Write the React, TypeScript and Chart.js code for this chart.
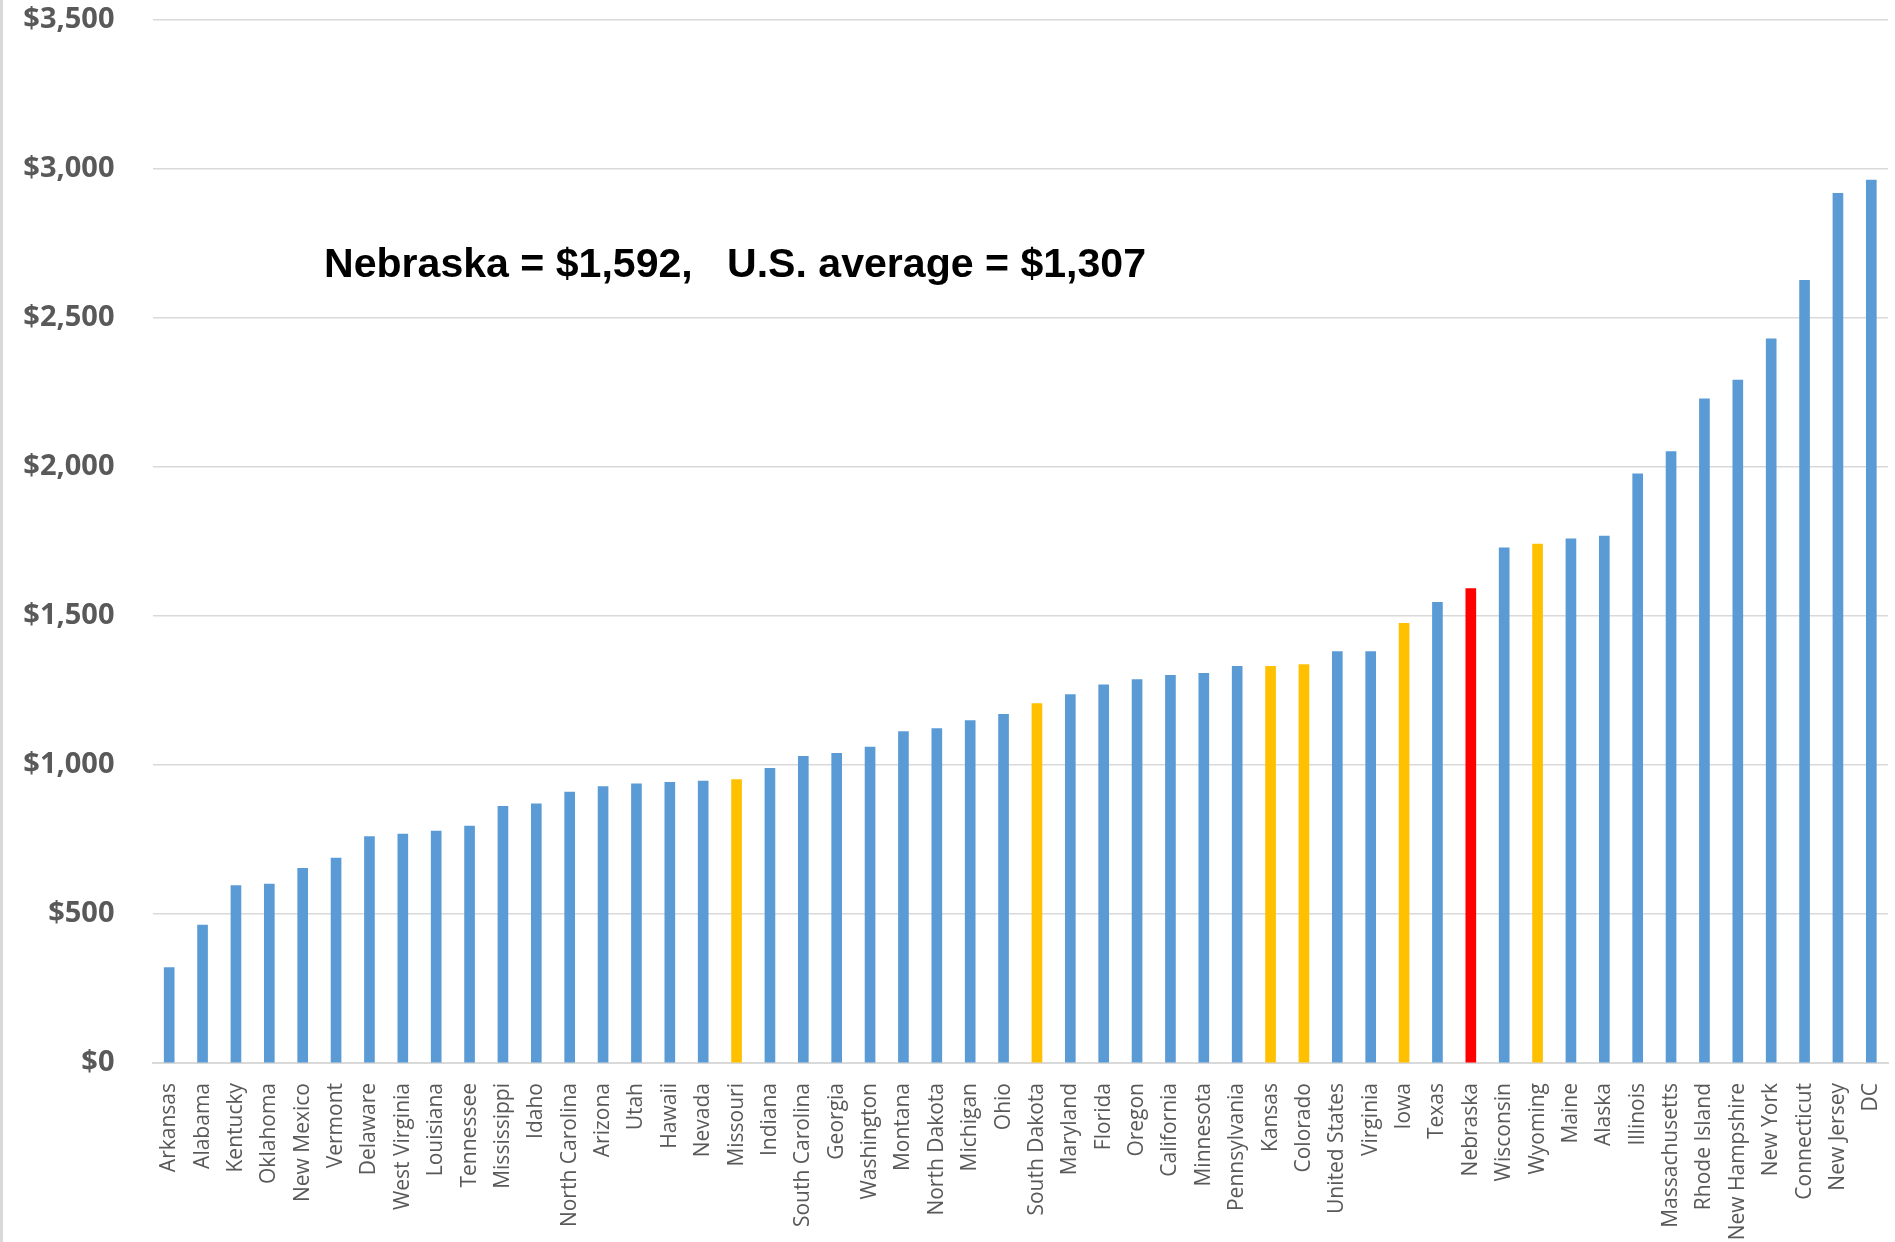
import React, { useEffect, useRef } from 'react';
import { Chart, registerables } from 'chart.js';

Chart.register(...registerables);

const states: string[] = [
  'Arkansas', 'Alabama', 'Kentucky', 'Oklahoma', 'New Mexico', 'Vermont', 'Delaware', 'West Virginia',
  'Louisiana', 'Tennessee', 'Mississippi', 'Idaho', 'North Carolina', 'Arizona', 'Utah', 'Hawaii',
  'Nevada', 'Missouri', 'Indiana', 'South Carolina', 'Georgia', 'Washington', 'Montana', 'North Dakota',
  'Michigan', 'Ohio', 'South Dakota', 'Maryland', 'Florida', 'Oregon', 'California', 'Minnesota',
  'Pennsylvania', 'Kansas', 'Colorado', 'United States', 'Virginia', 'Iowa', 'Texas', 'Nebraska',
  'Wisconsin', 'Wyoming', 'Maine', 'Alaska', 'Illinois', 'Massachusetts', 'Rhode Island', 'New Hampshire',
  'New York', 'Connecticut', 'New Jersey', 'DC',
];

const perCapita: number[] = [
  320, 463, 595, 600, 653, 688, 760, 768,
  778, 795, 861, 870, 909, 928, 937, 942,
  946, 951, 989, 1029, 1039, 1060, 1112, 1122,
  1149, 1170, 1206, 1236, 1269, 1287, 1301, 1308,
  1331, 1331, 1337, 1381, 1381, 1475, 1546, 1592,
  1729, 1741, 1759, 1768, 1977, 2052, 2229, 2292,
  2430, 2626, 2918, 2963,
];

const neighborStates: string[] = ['Missouri', 'South Dakota', 'Kansas', 'Colorado', 'Iowa', 'Wyoming'];
const focusState = 'Nebraska';

const yMin = 0;
const yMax = 3500;
const yStep = 500;

const annotationText = 'Nebraska = $1,592,   U.S. average = $1,307';

const BLUE = '#5B9BD5';
const GOLD = '#FFC000';
const RED = '#FF0000';
const TEXT_GRAY = '#595959';
const GRID_GRAY = '#D9D9D9';

const annotationPlugin = {
  id: 'textAnnotation',
  afterDraw(chart: any) {
    const ctx = chart.ctx as CanvasRenderingContext2D;
    ctx.save();
    ctx.font = 'bold 41px "Liberation Sans", Arial, sans-serif';
    const w = ctx.measureText(annotationText).width;
    ctx.translate(324, 277);
    ctx.scale(822 / w, 1);
    ctx.fillStyle = '#000000';
    ctx.textBaseline = 'alphabetic';
    ctx.textAlign = 'left';
    ctx.fillText(annotationText, 0, 0);
    ctx.restore();
  },
};

export default function App() {
  const canvasRef = useRef<HTMLCanvasElement | null>(null);

  useEffect(() => {
    if (!canvasRef.current) return;
    const colors = states.map((s) =>
      s === focusState ? RED : neighborStates.includes(s) ? GOLD : BLUE
    );
    const chart = new Chart(canvasRef.current, {
      type: 'bar',
      data: {
        labels: states,
        datasets: [
          {
            data: perCapita,
            backgroundColor: colors,
            borderWidth: 0,
            barThickness: 10,
          },
        ],
      },
      options: {
        animation: false,
        responsive: false,
        devicePixelRatio: 1,
        layout: { padding: { top: 20, right: 7, left: 0, bottom: 0 } },
        plugins: {
          legend: { display: false },
          tooltip: { enabled: false },
          title: { display: false },
        },
        scales: {
          x: {
            grid: { display: false },
            border: { display: true, color: GRID_GRAY, width: 2 },
            ticks: {
              autoSkip: false,
              minRotation: 90,
              maxRotation: 90,
              padding: 12,
              color: TEXT_GRAY,
              font: { family: '"Open Sans", sans-serif', size: 21, weight: 'normal' },
            },
            afterFit: (scale: any) => {
              scale.height = 179;
              scale.paddingLeft = 0;
              scale.paddingRight = 0;
              scale.paddingTop = 0;
              scale.paddingBottom = 0;
            },
          },
          y: {
            min: yMin,
            max: yMax,
            border: { display: false },
            grid: { color: GRID_GRAY, lineWidth: 1.5, drawTicks: false },
            ticks: {
              stepSize: yStep,
              padding: 38,
              color: TEXT_GRAY,
              font: { family: '"Open Sans", sans-serif', size: 29, weight: 'bold' },
              callback: (v: any) => '$' + Number(v).toLocaleString('en-US'),
            },
            afterFit: (scale: any) => {
              scale.width = 152.5;
              scale.paddingTop = 0;
              scale.paddingBottom = 0;
              scale.paddingLeft = 0;
              scale.paddingRight = 0;
            },
          },
        },
      },
      plugins: [annotationPlugin],
    });
    return () => chart.destroy();
  }, []);

  return (
    <div
      style={{
        position: 'fixed',
        left: 0,
        top: 0,
        width: 1895,
        height: 1242,
        background: '#ffffff',
      }}
    >
      <canvas ref={canvasRef} width={1895} height={1242} style={{ width: 1895, height: 1242, display: 'block' }} />
      <div style={{ position: 'absolute', left: 0, top: 0, width: 3, height: 1242, background: GRID_GRAY }} />
    </div>
  );
}
